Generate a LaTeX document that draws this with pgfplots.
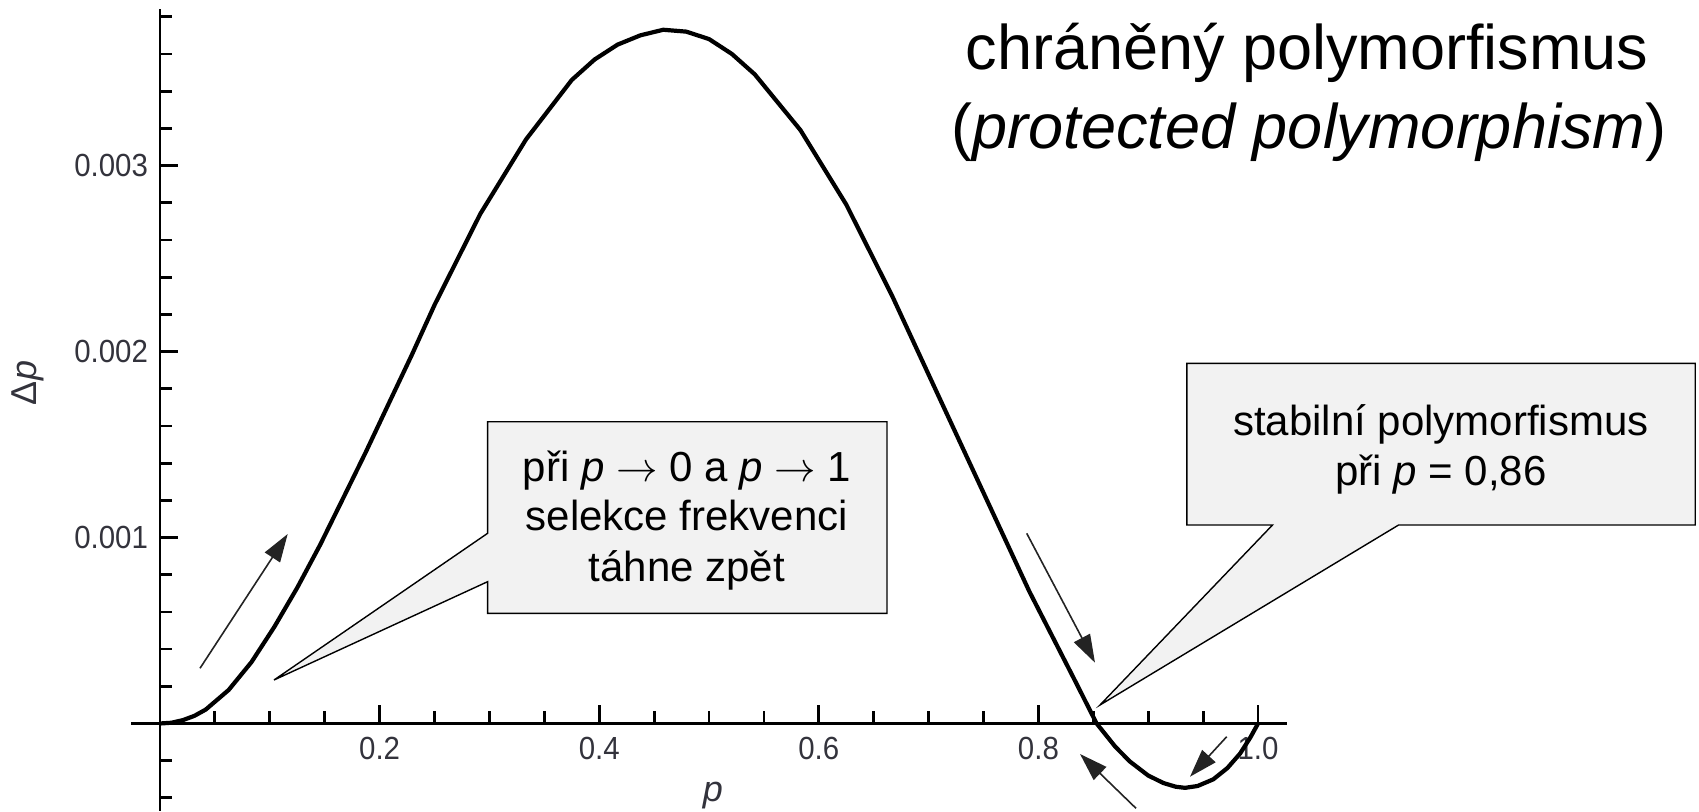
\documentclass[border=0pt]{standalone}
\usepackage{fontspec}
\setmainfont{Liberation Sans}
\usepackage{pgfplots}
\pgfplotsset{compat=1.18}
\usetikzlibrary{arrows.meta}
\definecolor{lbl}{RGB}{51,51,60}
\definecolor{boxfill}{RGB}{242,242,242}
\definecolor{arr}{RGB}{35,35,35}
\begin{document}
\begin{tikzpicture}
\useasboundingbox (0,0) rectangle (849.5pt,405.5pt);
\begin{axis}[
  at={(65.5pt,0.05pt)}, anchor=south west,
  scale only axis, width=577.8pt, height=400.8pt,
  xmin=-0.0264, xmax=1.026, ymin=-0.00047, ymax=0.00384,
  axis lines=middle,
  axis line style={line width=1.4pt,-},
  every inner x axis line/.append style={-},
  every inner y axis line/.append style={-},
  xtick={0.2,0.4,0.6,0.8,1.0}, xticklabels={0.2,0.4,0.6,0.8,1.0},
  minor xtick={0.05,0.1,0.15,0.25,0.3,0.35,0.45,0.5,0.55,0.65,0.7,0.75,0.85,0.9,0.95},
  ytick={0.001,0.002,0.003}, yticklabels={0.001,0.002,0.003},
  minor ytick={-0.0004,-0.0002,0.0002,0.0004,0.0006,0.0008,0.0012,0.0014,0.0016,0.0018,0.0022,0.0024,0.0026,0.0028,0.0032,0.0034,0.0036,0.0038},
  scaled y ticks=false, scaled x ticks=false,
  tick align=inside,
  major tick length=9pt, minor tick length=6pt,
  every tick/.style={black, line width=1.4pt},
  tick label style={font=\fontsize{16}{19}\selectfont, text=lbl, xscale=0.92},
  xticklabel style={anchor=north, yshift=-3.5pt},
  yticklabel style={anchor=east, xshift=-3pt},
  clip=false,
]
\addplot[black, line width=2.1pt, line join=round] table {
p dp
0 0
0.0104 0.000004
0.0208 0.000018
0.0313 0.000041
0.0417 0.000075
0.0625 0.00018
0.0833 0.00033
0.1042 0.00052
0.125 0.00073
0.1458 0.00096
0.1667 0.00121
0.1875 0.00146
0.2083 0.00172
0.2292 0.00198
0.25 0.00225
0.2917 0.00274
0.3333 0.00314
0.375 0.00346
0.3958 0.00357
0.4167 0.00365
0.4375 0.00370
0.4583 0.00373
0.4792 0.00372
0.5 0.00368
0.5208 0.00360
0.5417 0.00349
0.5833 0.00319
0.625 0.00279
0.6667 0.00230
0.7083 0.00177
0.75 0.00124
0.7917 0.00071
0.8333 0.00023
0.853 0
0.87 -0.000125
0.8834 -0.000205
0.9 -0.00028
0.9138 -0.00032
0.925 -0.00034
0.9335 -0.000346
0.945 -0.000336
0.9593 -0.0003
0.972 -0.00024
0.9836 -0.000162
0.993 -0.000075
1 0
};
\end{axis}
\begin{scope}[yshift=405.5pt, x=0.5pt, y=-0.5pt]
% axis labels
\node[font=\fontsize{18}{21}\selectfont, text=lbl, anchor=base] at (713,801) {\textit{p}};
\node[font=\fontsize{18}{21}\selectfont, text=lbl, rotate=90] at (28,383) {Δ\textit{p}};
% title
\node[font=\fontsize{31.5}{38}\selectfont, anchor=base] at (1307,70) {chráněný polymorfismus};
\node[font=\fontsize{31.5}{38}\selectfont, anchor=base] at (1309,148) {(\textit{protected polymorphism})};
% callout 1
\draw[fill=boxfill, line width=0.7pt, line join=miter] (487.6,421.7) -- (887,421.7) -- (887,613.3) -- (487.6,613.3) -- (487.6,581.7) -- (274,680) -- (487.6,533.3) -- cycle;
\node[font=\fontsize{21}{25}\selectfont, anchor=base] at (687,481.7) {při \textit{p} $\rightarrow$ 0 a \textit{p} $\rightarrow$ 1};
\node[font=\fontsize{21}{25}\selectfont, anchor=base] at (687,530) {selekce frekvenci};
\node[font=\fontsize{21}{25}\selectfont, anchor=base] at (687,581.7) {táhne zpět};
% callout 2
\draw[fill=boxfill, line width=0.7pt, line join=miter] (1186.8,363.3) -- (1695.2,363.3) -- (1695.2,525) -- (1398.6,525) -- (1100,705) -- (1272.5,525) -- (1186.8,525) -- cycle;
\node[font=\fontsize{21}{25}\selectfont, anchor=base] at (1441,435) {stabilní polymorfismus};
\node[font=\fontsize{21}{25}\selectfont, anchor=base] at (1441,485) {při \textit{p} = 0,86};
% arrows
\begin{scope}[arr, line width=0.8pt, -{Triangle[length=14pt,width=9pt]}]
\draw (200,668.3) -- (287.7,534);
\draw (1026.7,533.3) -- (1095,662.7);
\draw (1136,808.3) -- (1080,754);
\draw (1226.7,736.7) -- (1190,776.7);
\end{scope}
\end{scope}
\end{tikzpicture}
\end{document}
